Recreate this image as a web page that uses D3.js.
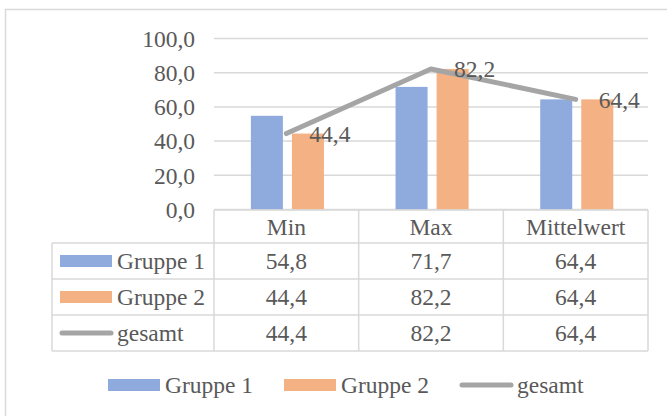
<!DOCTYPE html>
<html>
<head>
<meta charset="utf-8">
<script src="https://cdn.jsdelivr.net/npm/d3@7"></script>
<style>
  body { margin: 0; background: #fff; }
</style>
</head>
<body>
<div id="chart"></div>
<script>
// data
var categories = ["Min", "Max", "Mittelwert"];
var seriesNames = ["Gruppe 1", "Gruppe 2", "gesamt"];
var gruppe1 = [54.8, 71.7, 64.4];
var gruppe2 = [44.4, 82.2, 64.4];
var gesamt = [44.4, 82.2, 64.4];
var yTicks = [0, 20, 40, 60, 80, 100];

var colors = { "Gruppe 1": "#8faadc", "Gruppe 2": "#f4b183", "gesamt": "#a5a5a5" };

var w = 667, h = 416;
var fontSize = 23.5;
var fontFamily = "Liberation Serif";
var textColor = "#595959";
var fmt = function (v) { return v.toFixed(1).replace(".", ","); };

var svg = d3.select("#chart").append("svg")
    .attr("width", w)
    .attr("height", h);

svg.append("rect").attr("width", w).attr("height", h).attr("fill", "#fff");

// chart area border (runs off the right and bottom of the picture)
svg.append("rect")
    .attr("x", 5.5).attr("y", 9.5)
    .attr("width", 720).attr("height", 500)
    .attr("fill", "none")
    .attr("stroke", "#d9d9d9")
    .attr("stroke-width", 1.5);

// scales
var x = d3.scaleBand()
    .domain(categories)
    .range([214, 648])
    .paddingInner(0)
    .paddingOuter(0);

var y = d3.scaleLinear()
    .domain([0, 100])
    .range([209.5, 38.5]);

var xSub = d3.scaleBand()
    .domain(["Gruppe 1", "Gruppe 2"])
    .range([x.bandwidth() * 0.255, x.bandwidth() * 0.76])
    .paddingInner(0.22);

// gridlines
svg.append("g")
    .selectAll("line")
    .data(yTicks)
    .join("line")
    .attr("x1", x.range()[0])
    .attr("x2", x.range()[1])
    .attr("y1", d => y(d))
    .attr("y2", d => y(d))
    .attr("stroke", "#d9d9d9")
    .attr("stroke-width", 1.5);

// y axis labels
svg.append("g")
    .selectAll("text")
    .data(yTicks)
    .join("text")
    .attr("x", 195)
    .attr("y", d => y(d))
    .attr("dy", "0.35em")
    .attr("text-anchor", "end")
    .text(d => fmt(d));

// bars
var barData = [];
categories.forEach(function (c, i) {
    barData.push({ cat: c, name: "Gruppe 1", value: gruppe1[i] });
    barData.push({ cat: c, name: "Gruppe 2", value: gruppe2[i] });
});

svg.append("g")
    .selectAll("rect")
    .data(barData)
    .join("rect")
    .attr("x", d => x(d.cat) + xSub(d.name))
    .attr("width", xSub.bandwidth())
    .attr("y", d => y(d.value))
    .attr("height", d => y(0) - y(d.value))
    .attr("fill", d => colors[d.name]);

// gesamt line
var line = d3.line()
    .x((d, i) => x(categories[i]) + x.bandwidth() / 2)
    .y(d => y(d));

svg.append("path")
    .datum(gesamt)
    .attr("d", line)
    .attr("fill", "none")
    .attr("stroke", colors["gesamt"])
    .attr("stroke-width", 5)
    .attr("stroke-linecap", "round")
    .attr("stroke-linejoin", "round");

// data labels on the line
svg.append("g")
    .selectAll("text")
    .data(gesamt)
    .join("text")
    .attr("x", (d, i) => x(categories[i]) + x.bandwidth() / 2 + 23)
    .attr("y", d => y(d))
    .attr("dy", "0.35em")
    .text(d => fmt(d));

// data table
var tableLeft = 52;
var rowEdges = [210, 243, 279, 315, 351];
var rows = [gruppe1, gruppe2, gesamt];
var tbl = svg.append("g");
var borderColor = "#d9d9d9";

// horizontal borders
tbl.selectAll("line.h")
    .data(rowEdges)
    .join("line")
    .attr("class", "h")
    .attr("x1", (d, i) => i === 0 ? x.range()[0] : tableLeft)
    .attr("x2", x.range()[1])
    .attr("y1", d => d)
    .attr("y2", d => d)
    .attr("stroke", borderColor)
    .attr("stroke-width", 1.5);

// vertical borders
var colEdges = categories.map(c => x(c)).concat([x.range()[1]]);
tbl.selectAll("line.v")
    .data(colEdges)
    .join("line")
    .attr("class", "v")
    .attr("x1", d => d)
    .attr("x2", d => d)
    .attr("y1", rowEdges[0])
    .attr("y2", rowEdges[rowEdges.length - 1])
    .attr("stroke", borderColor)
    .attr("stroke-width", 1.5);

tbl.append("line")
    .attr("x1", tableLeft).attr("x2", tableLeft)
    .attr("y1", rowEdges[1]).attr("y2", rowEdges[rowEdges.length - 1])
    .attr("stroke", borderColor)
    .attr("stroke-width", 1.5);

// header labels
tbl.selectAll("text.head")
    .data(categories)
    .join("text")
    .attr("class", "head")
    .attr("x", d => x(d) + x.bandwidth() / 2)
    .attr("y", (rowEdges[0] + rowEdges[1]) / 2)
    .attr("dy", "0.35em")
    .attr("text-anchor", "middle")
    .text(d => d);

function drawKey(g, name, kx, ky) {
    if (name === "gesamt") {
        g.append("line")
            .attr("x1", kx + 2).attr("x2", kx + 51)
            .attr("y1", ky).attr("y2", ky)
            .attr("stroke", colors[name])
            .attr("stroke-width", 5)
            .attr("stroke-linecap", "round");
    } else {
        g.append("rect")
            .attr("x", kx).attr("y", ky - 6)
            .attr("width", 52).attr("height", 12)
            .attr("fill", colors[name]);
    }
}

// value rows with legend keys
rows.forEach(function (vals, r) {
    var cy = (rowEdges[r + 1] + rowEdges[r + 2]) / 2;
    var name = seriesNames[r];
    drawKey(tbl, name, 60, cy);
    tbl.append("text")
        .attr("x", 117)
        .attr("y", cy)
        .attr("dy", "0.35em")
        .text(name);
    tbl.selectAll("text.v" + r)
        .data(vals)
        .join("text")
        .attr("class", "v" + r)
        .attr("x", (d, i) => x(categories[i]) + x.bandwidth() / 2)
        .attr("y", cy)
        .attr("dy", "0.35em")
        .attr("text-anchor", "middle")
        .text(d => fmt(d));
});

// bottom legend
var legendY = 385;
var legendX = [108, 284, 460];
var leg = svg.append("g");
seriesNames.forEach(function (name, i) {
    drawKey(leg, name, legendX[i], legendY);
    leg.append("text")
        .attr("x", legendX[i] + 57)
        .attr("y", legendY)
        .attr("dy", "0.35em")
        .text(name);
});

// same font on every label
svg.selectAll("text")
    .attr("font-family", fontFamily)
    .attr("font-size", fontSize)
    .attr("fill", textColor);
</script>
</body>
</html>
